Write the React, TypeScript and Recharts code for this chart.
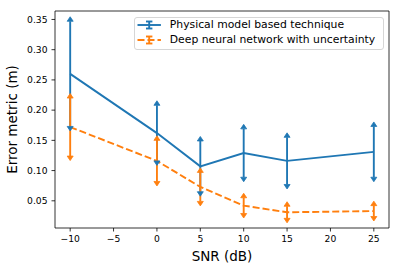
import { ComposedChart, Line, Scatter, XAxis, YAxis, ErrorBar, Legend, ReferenceArea } from "recharts";

const snr = [-10, 0, 5, 10, 15, 25];
const physicalMean = [0.26, 0.162, 0.107, 0.129, 0.116, 0.131];
const physicalErr = [0.087, 0.046, 0.042, 0.04, 0.039, 0.042];
const deepMean = [0.172, 0.116, 0.073, 0.042, 0.031, 0.033];
const deepErr = [0.048, 0.034, 0.024, 0.013, 0.01, 0.009];
const seriesNames = ["Physical model based technique", "Deep neural network with uncertainty"];
const xTicks = [-10, -5, 0, 5, 10, 15, 20, 25];
const yTicks = [0.05, 0.1, 0.15, 0.2, 0.25, 0.3, 0.35];
const xDomain: [number, number] = [-11.75, 26.75];
const yDomain: [number, number] = [0.005, 0.364];

const BLUE = "#1f77b4";
const ORANGE = "#ff7f0e";
const FONT = "DejaVu Sans";
const LW = 1.9;

const rows = (mean: number[], err: number[]) =>
  snr.map((x, i) => ({ snr: x, mean: mean[i], err: err[i], hi: mean[i] + err[i], lo: mean[i] - err[i] }));

const physicalRows = rows(physicalMean, physicalErr);
const deepRows = rows(deepMean, deepErr);

const caret = (dir: "up" | "down", color: string) => (props: any) => {
  const { cx, cy } = props;
  const tip = dir === "up" ? cy - 4.5 : cy + 4.5;
  return (
    <polygon
      points={`${cx - 3},${cy} ${cx},${tip} ${cx + 3},${cy}`}
      fill={color}
      stroke={color}
      strokeWidth={0.8}
    />
  );
};

function LegendBox({ payload }: any) {
  const items = (payload || [])
    .filter((p: any) => p.type !== "none")
    .sort((a: any, b: any) => seriesNames.indexOf(a.value) - seriesNames.indexOf(b.value));
  return (
    <div
      style={{
        position: "relative",
        width: 250,
        height: 33.5,
        border: "1px solid #d6d6d6",
        borderRadius: 3,
        background: "rgba(255,255,255,0.8)",
        boxSizing: "border-box",
        fontFamily: FONT,
        fontSize: 10.8,
        color: "#000",
      }}
    >
      {items.map((item: any, i: number) => (
        <div
          key={i}
          style={{ position: "absolute", left: 0, top: 7.2 + i * 15.7 - 8, height: 16, display: "flex", alignItems: "center", whiteSpace: "nowrap" }}
        >
          <svg width={33} height={16} style={{ display: "block" }}>
            <line x1={2.5} y1={8} x2={25.9} y2={8} stroke={item.color} strokeWidth={LW} strokeDasharray={item.payload?.strokeDasharray} />
            <line x1={14.2} y1={4.5} x2={14.2} y2={11.5} stroke={item.color} strokeWidth={LW} />
            <line x1={11} y1={4.5} x2={17.4} y2={4.5} stroke={item.color} strokeWidth={LW} />
            <line x1={11} y1={11.5} x2={17.4} y2={11.5} stroke={item.color} strokeWidth={LW} />
          </svg>
          <span style={{ marginLeft: 1.5, lineHeight: "16px" }}>{item.value}</span>
        </div>
      ))}
    </div>
  );
}

export default function App() {
  const tickStyle = { fontFamily: FONT, fontSize: 9.2, fill: "#000" };
  return (
    <div style={{ position: "fixed", left: 0, top: 0, width: 399, height: 270, background: "#fff" }}>
      <ComposedChart width={399} height={270} margin={{ top: 11, right: 10, bottom: 0, left: 0 }}>
        <XAxis
          dataKey="snr"
          type="number"
          domain={xDomain}
          allowDataOverflow
          ticks={xTicks}
          tickFormatter={(v: number) => String(v).replace("-", "\u2212")}
          tick={tickStyle}
          tickSize={3.5}
          tickMargin={4}
          tickLine={{ stroke: "#000", strokeWidth: 0.8 }}
          axisLine={false}
          height={42}
          label={{ value: "SNR (dB)", position: "insideBottom", offset: 9, style: { fontFamily: FONT, fontSize: 13.5, fill: "#000" } }}
        />
        <YAxis
          type="number"
          domain={yDomain}
          allowDataOverflow
          ticks={yTicks}
          tickFormatter={(v: number) => v.toFixed(2)}
          tick={tickStyle}
          tickSize={3.5}
          tickMargin={4}
          tickLine={{ stroke: "#000", strokeWidth: 0.8 }}
          axisLine={false}
          width={55}
          label={{ value: "Error metric (m)", angle: -90, position: "insideLeft", offset: 12, style: { fontFamily: FONT, fontSize: 13.5, fill: "#000", textAnchor: "middle" } }}
        />
        <ReferenceArea x1={xDomain[0]} x2={xDomain[1]} y1={yDomain[0]} y2={yDomain[1]} fill="none" stroke="#000" strokeWidth={0.8} strokeOpacity={1} fillOpacity={0} />
        <Line
          data={physicalRows}
          dataKey="mean"
          name={seriesNames[0]}
          stroke={BLUE}
          strokeWidth={LW}
          dot={false}
          activeDot={false}
          isAnimationActive={false}
        >
          <ErrorBar dataKey="err" direction="y" width={0} stroke={BLUE} strokeWidth={LW} isAnimationActive={false} />
        </Line>
        <Scatter data={physicalRows} dataKey="hi" legendType="none" shape={caret("up", BLUE)} isAnimationActive={false} />
        <Scatter data={physicalRows} dataKey="lo" legendType="none" shape={caret("down", BLUE)} isAnimationActive={false} />
        <Line
          data={deepRows}
          dataKey="mean"
          name={seriesNames[1]}
          stroke={ORANGE}
          strokeWidth={LW}
          strokeDasharray="7 3"
          dot={false}
          activeDot={false}
          isAnimationActive={false}
        >
          <ErrorBar dataKey="err" direction="y" width={0} stroke={ORANGE} strokeWidth={LW} isAnimationActive={false} />
        </Line>
        <Scatter data={deepRows} dataKey="hi" legendType="none" shape={caret("up", ORANGE)} isAnimationActive={false} />
        <Scatter data={deepRows} dataKey="lo" legendType="none" shape={caret("down", ORANGE)} isAnimationActive={false} />
        <Legend
          layout="vertical"
          align="center"
          verticalAlign="middle"
          content={<LegendBox />}
          wrapperStyle={{ left: 134.3, top: 16.5, width: 250, height: 33.5 }}
        />
      </ComposedChart>
    </div>
  );
}
